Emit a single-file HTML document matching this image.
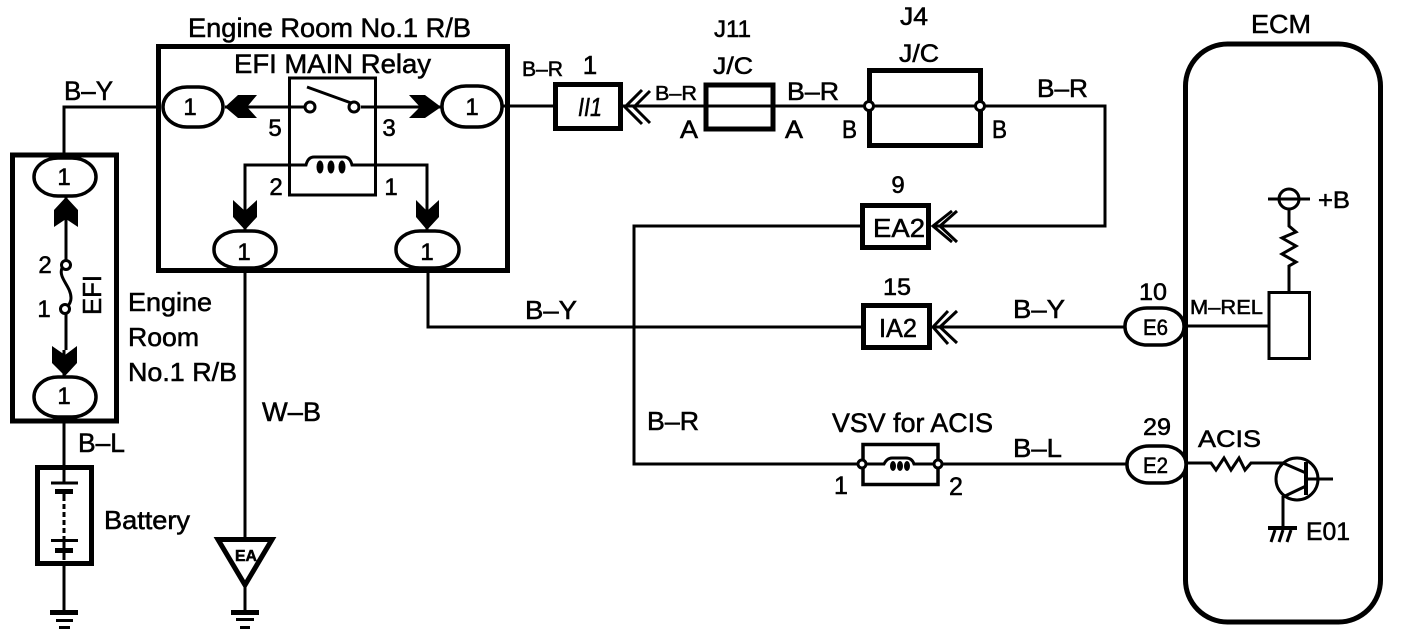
<!DOCTYPE html>
<html><head><meta charset="utf-8"><style>
html,body{margin:0;padding:0;background:#fff;width:1408px;height:636px;overflow:hidden}
svg{display:block}
text{font-family:"Liberation Sans",sans-serif;fill:#000;stroke:#000;stroke-width:.55}
.w{fill:none;stroke:#000;stroke-width:3}
.b{fill:none;stroke:#000;stroke-width:5}
.o{fill:#fff;stroke:#000;stroke-width:3.500}
.c{fill:#fff;stroke:#000;stroke-width:3}
.f{fill:#000;stroke:none}
</style></head><body>
<svg width="1408" height="636" viewBox="0 0 1408 636" xmlns="http://www.w3.org/2000/svg">
<!-- wires -->
<path class="w" d="M157 107H64V155"/>
<path class="w" d="M66 197V262M66 313V350M64 350V376"/>
<path class="w" d="M64 421V468"/>
<path class="w" d="M503 106H555"/>
<path class="w" d="M620 106H1105V226H935"/>
<path class="w" d="M860 226H634V464H861"/>
<path class="w" d="M428 268V327H861"/>
<path class="w" d="M935 327H1124"/>
<path class="w" d="M939 464H1127"/>
<path class="w" d="M245 268V537"/>
<path class="w" d="M245 585V612"/>
<path class="w" d="M64 561V612"/>
<!-- Engine room R/B -->
<rect class="b" x="158.500" y="46.500" width="349" height="224"/>
<rect x="289.500" y="78" width="86" height="117" fill="none" stroke="#000" stroke-width="3"/>
<path class="w" d="M225 107H309M361 107H441"/>
<path class="w" d="M245 230V165H306q2-8 8-8h30q6 0 8 8H427V230"/>
<path class="w" d="M307 87L354 104"/>
<circle class="c" cx="310" cy="107" r="5"/><circle class="c" cx="354" cy="107" r="5"/>
<ellipse class="f" cx="320" cy="167" rx="3.500" ry="6.500"/><ellipse class="f" cx="331" cy="167" rx="3.500" ry="6.500"/><ellipse class="f" cx="342" cy="167" rx="3.500" ry="6.500"/>
<polygon class="f" points="225,107 238,95 257,95 247,107 257,118 238,118"/>
<polygon class="f" points="441,107 425,95 409,95 420,107 409,118 425,118"/>
<polygon class="f" points="245,230 233,217 233,200 245,211 257,200 257,217"/>
<polygon class="f" points="427,230 416,217 416,200 427,211 439,200 439,217"/>
<rect class="o" x="163" y="87" width="60" height="40" rx="24" ry="20"/>
<rect class="o" x="442" y="86" width="60" height="41" rx="24" ry="20"/>
<rect class="o" x="214" y="231" width="62" height="37" rx="24" ry="18"/>
<rect class="o" x="396" y="231" width="63" height="37" rx="24" ry="18"/>
<!-- EFI box -->
<rect class="b" x="12.500" y="155" width="104" height="266"/>
<polygon class="f" points="66,197 54,210 54,227 66,219 78,227 78,210"/>
<polygon class="f" points="65,376 52,363 52,346 65,355 77,346 77,363"/>
<rect class="o" x="34" y="158" width="62" height="38" rx="24" ry="19"/>
<rect class="o" x="34" y="377" width="62" height="40" rx="24" ry="20"/>
<path class="w" d="M62 268c-4 10 9 18 9 30 0 6-4 8-6 13" stroke-width="4"/>
<circle class="c" cx="66" cy="265" r="4.500"/><circle class="c" cx="65" cy="309" r="4.500"/>
<!-- Battery -->
<rect class="b" x="37.500" y="467.500" width="54" height="96"/>
<path d="M64 468V482M51 483H78M64 492V560" class="w"/>
<rect class="f" x="55" y="489" width="18" height="5"/>
<rect class="f" x="51" y="539" width="27" height="3"/>
<rect class="f" x="55" y="548" width="18" height="5"/>
<rect x="60" y="496" width="8" height="42" fill="#fff"/>
<path d="M64 496V538" stroke="#000" stroke-width="3" stroke-dasharray="5 3" fill="none"/>
<!-- grounds -->
<rect class="f" x="50" y="610" width="28" height="5"/><rect class="f" x="56" y="619" width="17" height="3"/><rect class="f" x="59" y="626" width="11" height="3"/>
<rect class="f" x="231" y="610" width="28" height="5"/><rect class="f" x="236" y="618" width="18" height="3"/><rect class="f" x="240" y="626" width="10" height="3"/>
<polygon points="218,539.500 272,539.500 245,585" fill="#fff" stroke="#000" stroke-width="5"/>
<!-- J boxes -->
<rect x="555.500" y="84.500" width="65" height="44" fill="#fff" stroke="#000" stroke-width="5"/>
<path class="w" d="M642 90L625 107L642 124M650 91L634 107L650 123"/>
<rect class="b" x="706" y="85" width="67" height="44" stroke-width="4"/>
<rect class="b" x="869.500" y="70.500" width="111" height="75"/>
<circle class="c" cx="869" cy="106" r="4.500"/><circle class="c" cx="980" cy="106" r="4.500"/>
<rect x="862.500" y="205.500" width="66" height="42" fill="#fff" stroke="#000" stroke-width="5"/>
<path class="w" d="M952 211L933 226L952 242M957 211L940 226L957 242"/>
<rect x="863.500" y="305.500" width="66" height="42" fill="#fff" stroke="#000" stroke-width="5"/>
<path class="w" d="M948 311L933 327L948 344M957 311L940 327L957 343"/>
<rect x="863" y="444.500" width="75" height="40" fill="none" stroke="#000" stroke-width="3.500"/>
<circle class="c" cx="862" cy="464" r="4"/><circle class="c" cx="938" cy="464" r="4"/>
<path class="w" d="M866 464H884q3-6 8-6h14q6 0 8 6H934"/>
<ellipse class="f" cx="893" cy="466" rx="3" ry="5"/><ellipse class="f" cx="900" cy="466" rx="3" ry="5"/><ellipse class="f" cx="907" cy="466" rx="3" ry="5"/>
<!-- ECM -->
<rect class="b" x="1185.500" y="44" width="195" height="578" rx="42"/>
<rect class="o" x="1125" y="308" width="59" height="37" rx="22" ry="18"/>
<rect class="o" x="1127" y="446" width="59" height="37" rx="22" ry="18"/>
<path class="w" d="M1188 326H1268"/>
<rect x="1269" y="292.500" width="40.500" height="66" fill="none" stroke="#000" stroke-width="3"/>
<path class="w" d="M1289 292V266L1296 262L1282 254L1296 246L1282 238L1296 232L1289 226V210"/>
<circle cx="1289" cy="199" r="10" fill="#fff" stroke="#000" stroke-width="3"/>
<path class="w" d="M1268 199H1310"/>
<path class="w" d="M1188 463H1211L1216 470L1224 458L1231 470L1239 458L1245 470L1251 463H1285"/>
<circle cx="1297" cy="479" r="21" fill="none" stroke="#000" stroke-width="3"/>
<path d="M1306 462V495" stroke="#000" stroke-width="4" fill="none"/>
<path d="M1283 463L1306 473M1306 486L1283 497V526M1306 479H1333" stroke="#000" stroke-width="3" fill="none"/>
<rect class="f" x="1268" y="526" width="29" height="4"/>
<path d="M1275 530L1271 542M1283 530L1279 542M1291 530L1287 542" stroke="#000" stroke-width="3" fill="none"/>
<!-- labels -->
<text x="188" y="37" font-size="27" textLength="283" lengthAdjust="spacingAndGlyphs">Engine Room No.1 R/B</text>
<text x="234" y="73" font-size="27" textLength="197" lengthAdjust="spacingAndGlyphs">EFI MAIN Relay</text>
<text x="64" y="100" font-size="27" textLength="49" lengthAdjust="spacingAndGlyphs">B–Y</text>
<text x="190" y="115" font-size="24" text-anchor="middle">1</text><text x="472" y="115" font-size="24" text-anchor="middle">1</text>
<text x="244" y="260" font-size="24" text-anchor="middle">1</text><text x="427" y="260" font-size="24" text-anchor="middle">1</text>
<text x="64" y="185" font-size="24" text-anchor="middle">1</text><text x="64" y="404" font-size="24" text-anchor="middle">1</text>
<text x="275" y="136" font-size="24" text-anchor="middle">5</text><text x="389" y="136" font-size="24" text-anchor="middle">3</text>
<text x="276" y="195" font-size="24" text-anchor="middle">2</text><text x="391" y="195" font-size="24" text-anchor="middle">1</text>
<text x="45" y="273" font-size="24" text-anchor="middle">2</text><text x="44" y="317" font-size="24" text-anchor="middle">1</text>
<text transform="translate(101,315) rotate(-90)" font-size="26" textLength="40" lengthAdjust="spacingAndGlyphs">EFI</text>
<text x="128" y="311" font-size="26" textLength="84" lengthAdjust="spacingAndGlyphs">Engine</text>
<text x="128" y="346" font-size="26" textLength="71" lengthAdjust="spacingAndGlyphs">Room</text>
<text x="128" y="381" font-size="26" textLength="109" lengthAdjust="spacingAndGlyphs">No.1 R/B</text>
<text x="78" y="452" font-size="27" textLength="47" lengthAdjust="spacingAndGlyphs">B–L</text>
<text x="104" y="529" font-size="26" textLength="86" lengthAdjust="spacingAndGlyphs">Battery</text>
<text x="262" y="421" font-size="27" textLength="59" lengthAdjust="spacingAndGlyphs">W–B</text>
<text x="235" y="561" font-size="16" font-weight="bold" textLength="22" lengthAdjust="spacingAndGlyphs">EA</text>
<text x="522" y="76" font-size="21" textLength="41" lengthAdjust="spacingAndGlyphs">B–R</text>
<text x="590" y="74" font-size="26" text-anchor="middle">1</text>
<text x="578" y="116" font-size="26" font-style="italic" textLength="24" lengthAdjust="spacingAndGlyphs">II1</text>
<text x="655" y="100" font-size="20" textLength="42" lengthAdjust="spacingAndGlyphs">B–R</text>
<text x="714" y="37" font-size="24" textLength="37" lengthAdjust="spacingAndGlyphs">J11</text>
<text x="713" y="74" font-size="24" textLength="40" lengthAdjust="spacingAndGlyphs">J/C</text>
<text x="680" y="138" font-size="25" textLength="18" lengthAdjust="spacingAndGlyphs">A</text>
<text x="785" y="138" font-size="25" textLength="18" lengthAdjust="spacingAndGlyphs">A</text>
<text x="842" y="138" font-size="25" textLength="15" lengthAdjust="spacingAndGlyphs">B</text>
<text x="992" y="138" font-size="25" textLength="15" lengthAdjust="spacingAndGlyphs">B</text>
<text x="787" y="100" font-size="25" textLength="52" lengthAdjust="spacingAndGlyphs">B–R</text>
<text x="900" y="25" font-size="25" textLength="28" lengthAdjust="spacingAndGlyphs">J4</text>
<text x="899" y="62" font-size="25" textLength="40" lengthAdjust="spacingAndGlyphs">J/C</text>
<text x="1037" y="97" font-size="25" textLength="51" lengthAdjust="spacingAndGlyphs">B–R</text>
<text x="898" y="193" font-size="24" text-anchor="middle">9</text>
<text x="873" y="237" font-size="26" textLength="52" lengthAdjust="spacingAndGlyphs">EA2</text>
<text x="883" y="295" font-size="24" textLength="28" lengthAdjust="spacingAndGlyphs">15</text>
<text x="879" y="337" font-size="26" textLength="38" lengthAdjust="spacingAndGlyphs">IA2</text>
<text x="525" y="319" font-size="26" textLength="52" lengthAdjust="spacingAndGlyphs">B–Y</text>
<text x="1013" y="318" font-size="26" textLength="52" lengthAdjust="spacingAndGlyphs">B–Y</text>
<text x="647" y="430" font-size="26" textLength="52" lengthAdjust="spacingAndGlyphs">B–R</text>
<text x="832" y="432" font-size="27" textLength="161" lengthAdjust="spacingAndGlyphs">VSV for ACIS</text>
<text x="841" y="494" font-size="25" text-anchor="middle">1</text><text x="956" y="495" font-size="25" text-anchor="middle">2</text>
<text x="1013" y="457" font-size="26" textLength="49" lengthAdjust="spacingAndGlyphs">B–L</text>
<text x="1251" y="33" font-size="26" textLength="60" lengthAdjust="spacingAndGlyphs">ECM</text>
<text x="1139" y="300" font-size="24" textLength="28" lengthAdjust="spacingAndGlyphs">10</text>
<text x="1143" y="335" font-size="22" textLength="25" lengthAdjust="spacingAndGlyphs">E6</text>
<text x="1143" y="435" font-size="24" textLength="28" lengthAdjust="spacingAndGlyphs">29</text>
<text x="1143" y="473" font-size="22" textLength="25" lengthAdjust="spacingAndGlyphs">E2</text>
<text x="1190" y="314" font-size="20" textLength="73" lengthAdjust="spacingAndGlyphs">M–REL</text>
<text x="1318" y="208" font-size="24" textLength="32" lengthAdjust="spacingAndGlyphs">+B</text>
<text x="1198" y="447" font-size="24" textLength="63" lengthAdjust="spacingAndGlyphs">ACIS</text>
<text x="1306" y="540" font-size="25" textLength="44" lengthAdjust="spacingAndGlyphs">E01</text>
</svg>
</body></html>
